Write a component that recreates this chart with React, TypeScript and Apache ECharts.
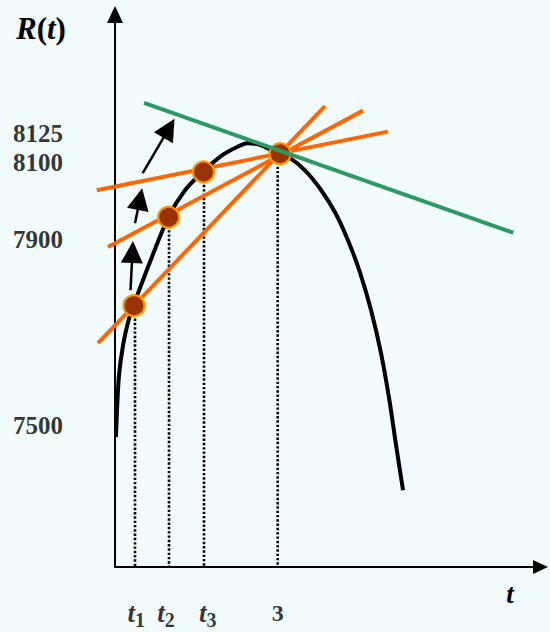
import React, { useEffect, useRef } from "react";
import * as echarts from "echarts";

// Schematic axes: t runs 0..X_MAX, R is drawn on a 0..100 schematic height scale
const X_MIN_DATA = -0.4; // data grid reaches a little left of the R axis
const X_MAX = 7.846;
const Y_MAX = 100;

// Black curve R(t)
const curveT = [0.018, 0.037, 0.074, 0.148, 0.24, 0.337, 0.645, 0.983, 1.291, 1.628, 1.973, 2.268, 2.434, 2.637, 2.858, 3.024, 3.227, 3.503, 3.78, 4.057, 4.297, 4.518, 4.721, 4.905, 5.053, 5.182, 5.311];
const curveR = [23.5, 28.4, 34.7, 40.1, 44.3, 47.2, 55.2, 63.3, 68.2, 71.6, 74.5, 76.1, 76.7, 76.5, 75.6, 74.7, 74.0, 71.8, 68.5, 64.2, 59.1, 53.3, 46.5, 38.7, 30.6, 22.1, 13.9];

// Marked points (t1, t2, t3, 3)
const pointT = [0.35, 0.987, 1.632, 3.043];
const pointR = [47.3, 63.3, 71.5, 74.8];
const dropT = [0.369, 0.996, 1.641, 3.0];

// Secant lines (orange) and tangent line (green): endpoints
const secant1T = [-0.313, 3.872];
const secant1R = [40.5, 83.4];
const secant2T = [-0.129, 4.573];
const secant2R = [57.9, 82.6];
const secant3T = [-0.337, 5.034];
const secant3R = [68.2, 78.8];
const tangentT = [0.535, 7.345];
const tangentR = [84.0, 60.5];

// Black arrows (tail -> head)
const arrowFromT = [0.286, 0.369, 0.511];
const arrowFromR = [50.1, 62.2, 71.3];
const arrowToT = [0.322, 0.46, 0.995];
const arrowToR = [57.0, 66.6, 79.4];

// Tick labels
const xTickMain = ["t", "t", "t", "3"];
const xTickSub = ["1", "2", "3", ""];
const xTickT = [0.39, 0.94, 1.71, 3.0];
const yTickLabels = ["8125", "8100", "7900", "7500"];
const yTickR = [78.4, 73.3, 59.2, 25.7];

const serif = '"Liberation Serif", "Times New Roman", serif';
const ORANGE = "#FF6600";
const GREEN = "#2E9A63";

const GRID_LEFT = 115;
const GRID_TOP = 14.5;
const GRID_W = 425.5;
const GRID_H = 552.5;
const PX_PER_T = GRID_W / X_MAX;

const zip = (a: number[], b: number[]) => a.map((v, i) => [v, b[i]]);

const onData = { xAxisIndex: 1, yAxisIndex: 1 };

function seg(t: number[], r: number[], color: string, z: number) {
  return {
    type: "line",
    ...onData,
    data: zip(t, r),
    symbol: "none",
    silent: true,
    z,
    lineStyle: { color, width: 4 },
  };
}

export default function App() {
  const ref = useRef<HTMLDivElement>(null);
  useEffect(() => {
    if (!ref.current) return;
    const chart = echarts.init(ref.current, null, { renderer: "svg" });
    const hiddenAxis = { show: false, type: "value" };
    const option: any = {
      animation: false,
      backgroundColor: "#F2FCFD",
      grid: [
        { left: GRID_LEFT, top: GRID_TOP, width: GRID_W, height: GRID_H, containLabel: false },
        {
          left: GRID_LEFT + X_MIN_DATA * PX_PER_T,
          top: GRID_TOP,
          width: GRID_W - X_MIN_DATA * PX_PER_T,
          height: GRID_H,
          containLabel: false,
        },
      ],
      xAxis: [
        {
          gridIndex: 0,
          type: "value",
          min: 0,
          max: X_MAX,
          axisLine: {
            show: true,
            lineStyle: { color: "#000", width: 2 },
            symbol: ["none", "triangle"],
            symbolSize: [14, 15],
          },
          axisTick: { show: false },
          axisLabel: { show: false },
          splitLine: { show: false },
        },
        { ...hiddenAxis, gridIndex: 1, min: X_MIN_DATA, max: X_MAX },
      ],
      yAxis: [
        {
          gridIndex: 0,
          type: "value",
          min: 0,
          max: Y_MAX,
          axisLine: {
            show: true,
            onZero: false,
            lineStyle: { color: "#000", width: 2 },
            symbol: ["none", "triangle"],
            symbolSize: [16, 17],
          },
          axisTick: { show: false },
          axisLabel: { show: false },
          splitLine: { show: false },
        },
        { ...hiddenAxis, gridIndex: 1, min: 0, max: Y_MAX },
      ],
      graphic: [
        {
          type: "text",
          x: 16,
          y: 28.5,
          style: {
            text: "{i|R}{p|(}{i|t}{p|)}",
            align: "left",
            verticalAlign: "middle",
            rich: {
              i: { fontFamily: serif, fontSize: 31, fontWeight: "bold", fontStyle: "italic", fill: "#000" },
              p: { fontFamily: serif, fontSize: 31, fontWeight: "bold", fill: "#000" },
            },
          },
        },
        {
          type: "text",
          x: 510,
          y: 594,
          style: {
            text: "t",
            align: "center",
            verticalAlign: "middle",
            fontFamily: serif,
            fontSize: 27,
            fontWeight: "bold",
            fontStyle: "italic",
            fill: "#000",
          },
        },
      ],
      series: [
        {
          type: "line",
          ...onData,
          data: zip(curveT, curveR),
          smooth: 0.3,
          symbol: "none",
          silent: true,
          z: 2,
          lineStyle: { color: "#000", width: 4 },
        },
        ...dropT.map((t, i) => ({
          type: "line",
          ...onData,
          data: [[t, pointR[i]], [t, 0]],
          symbol: "none",
          silent: true,
          z: 1,
          lineStyle: { color: "#000", width: 2.6, type: [2.4, 1.9], cap: "butt" },
        })),
        seg(secant1T, secant1R, ORANGE, 3),
        seg(secant2T, secant2R, ORANGE, 3),
        seg(secant3T, secant3R, ORANGE, 3),
        {
          type: "scatter",
          ...onData,
          data: zip(pointT, pointR),
          symbol: "circle",
          symbolSize: 21,
          silent: true,
          z: 5,
          itemStyle: { color: "#993300", borderColor: "#FF9900", borderWidth: 2.2, opacity: 1 },
        },
        seg(tangentT, tangentR, GREEN, 6),
        {
          type: "lines",
          coordinateSystem: "cartesian2d",
          ...onData,
          silent: true,
          z: 6,
          symbol: ["none", "triangle"],
          symbolSize: 22,
          data: arrowFromT.map((t, i) => ({
            coords: [[t, arrowFromR[i]], [arrowToT[i], arrowToR[i]]],
          })),
          lineStyle: { color: "#000", width: 2.5, opacity: 1 },
        },
        {
          type: "scatter",
          ...onData,
          data: yTickR.map((r) => [0, r]),
          symbol: "circle",
          symbolSize: 1,
          clip: false,
          silent: true,
          z: 7,
          itemStyle: { color: "rgba(0,0,0,0)" },
          label: {
            show: true,
            position: "inside",
            offset: [-102, 0],
            align: "left",
            verticalAlign: "middle",
            formatter: (p: any) => yTickLabels[p.dataIndex],
            fontFamily: serif,
            fontSize: 25,
            fontWeight: "bold",
            color: "#000",
          },
        },
        {
          type: "scatter",
          ...onData,
          data: xTickT.map((t) => [t, 0]),
          symbol: "circle",
          symbolSize: 1,
          clip: false,
          silent: true,
          z: 7,
          itemStyle: { color: "rgba(0,0,0,0)" },
          label: {
            show: true,
            position: "inside",
            offset: [0, 45.5],
            align: "center",
            verticalAlign: "middle",
            formatter: (p: any) => {
              const i = p.dataIndex;
              return xTickSub[i]
                ? `{a|${xTickMain[i]}}{b|${xTickSub[i]}}`
                : `{n|${xTickMain[i]}}`;
            },
            rich: {
              a: { fontFamily: serif, fontSize: 27, fontWeight: "bold", fontStyle: "italic", color: "#000", lineHeight: 26 },
              b: { fontFamily: serif, fontSize: 20, fontWeight: "bold", color: "#000", lineHeight: 20, padding: [14, 0, 0, 0] },
              n: { fontFamily: serif, fontSize: 24, fontWeight: "bold", color: "#000", lineHeight: 26 },
            },
          },
        },
      ],
    };
    chart.setOption(option);
    return () => chart.dispose();
  }, []);
  return (
    <div
      ref={ref}
      style={{ position: "fixed", left: 0, top: 0, width: 550, height: 632 }}
    />
  );
}
